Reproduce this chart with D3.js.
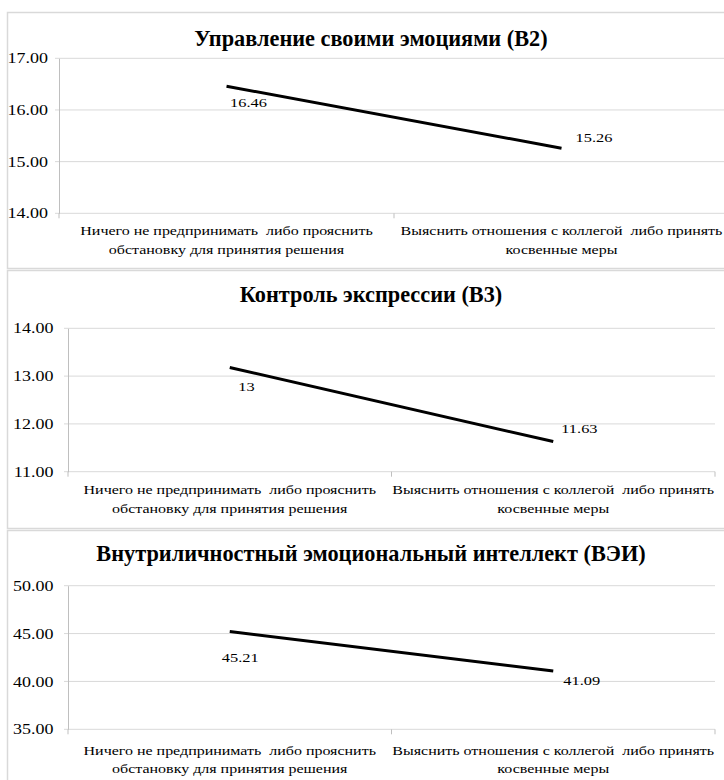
<!DOCTYPE html>
<html>
<head>
<meta charset="utf-8">
<script src="https://cdn.jsdelivr.net/npm/d3@7"></script>
<style>
  body { margin: 0; background: #fff; }
</style>
</head>
<body>
<svg id="chart" width="724" height="780" style="font-family:'Liberation Serif'"></svg>
<script>
// Data
// ===========================
var categoryLines = [
  ["Ничего не предпринимать  либо прояснить", "обстановку для принятия решения"],
  ["Выяснить отношения с коллегой  либо принять", "косвенные меры"]
];
var titles = [
  "Управление своими эмоциями (B2)",
  "Контроль экспрессии (B3)",
  "Внутриличностный эмоциональный интеллект (ВЭИ)"
];
var b2Values = [16.46, 15.26];
var b3Values = [13.18, 11.63];
var veiValues = [45.21, 41.09];
var b2Labels = ["16.46", "15.26"];
var b3Labels = ["13", "11.63"];
var veiLabels = ["45.21", "41.09"];
var b2Ticks = [14, 15, 16, 17];
var b3Ticks = [11, 12, 13, 14];
var veiTicks = [35, 40, 45, 50];

// Layout for each panel
// ===========================
var fontName = "Liberation Serif";
var squash = 0.8; // small text in the picture is wide and low

var panels = [
  { title: titles[0], values: b2Values, labels: b2Labels, ticks: b2Ticks,
    box: [12, 268], left: 59, right: 729, top: 58.3, bottom: 213.3, titleY: 46,
    pad: 11, catY: [22, 41], labelOffsets: [[3.5, 21], [14, -6.5]] },
  { title: titles[1], values: b3Values, labels: b3Labels, ticks: b3Ticks,
    box: [270, 528], left: 68, right: 715, top: 328.3, bottom: 471.7, titleY: 301.5,
    pad: 14.5, catY: [22, 41.5], labelOffsets: [[8.5, 24], [8, -9]] },
  { title: titles[2], values: veiValues, labels: veiLabels, ticks: veiTicks,
    box: [530, 800], left: 68, right: 715, top: 585.7, bottom: 729.3, titleY: 560.5,
    pad: 14.5, catY: [25.5, 44], labelOffsets: [[-8, 30], [10, 14]] }
];

var svg = d3.select("#chart");

// little helper: text squashed vertically around its baseline
function smallText(parent, x, y, str, anchor, size) {
  return parent.append("text")
    .attr("transform", `translate(${x}, ${y}) scale(1, ${squash})`)
    .attr("text-anchor", anchor)
    .style("font-family", fontName)
    .style("font-size", size + "px")
    .style("white-space", "pre")
    .attr("fill", "#000")
    .text(str);
}

panels.forEach(function(p) {
  var g = svg.append("g");

  // panel border
  g.append("rect")
    .attr("x", 7.5)
    .attr("y", p.box[0] + 0.5)
    .attr("width", 800)
    .attr("height", p.box[1] - p.box[0])
    .attr("fill", "#fff")
    .attr("stroke", "#d9d9d9")
    .attr("stroke-width", 1.5);

  // scales
  var xScale = d3.scaleBand()
    .domain(d3.range(categoryLines.length))
    .range([p.left, p.right]);
  var yScale = d3.scaleLinear()
    .domain(d3.extent(p.ticks))
    .range([p.bottom, p.top]);
  var xMid = i => xScale(i) + xScale.bandwidth() / 2;

  // gridlines
  g.append("g")
    .selectAll("line")
    .data(p.ticks)
    .enter()
    .append("line")
    .attr("x1", p.left - 4)
    .attr("x2", p.right)
    .attr("y1", d => yScale(d))
    .attr("y2", d => yScale(d))
    .attr("stroke", "#d9d9d9")
    .attr("stroke-width", 1);

  // y axis
  var leftAxis = d3.axisLeft(yScale)
    .tickValues(p.ticks)
    .tickFormat(d3.format(".2f"))
    .tickSize(0)
    .tickPadding(p.pad);
  var yAxis = g.append("g")
    .attr("transform", `translate(${p.left}, 0)`)
    .call(leftAxis)
    .attr("font-family", null)
    .attr("font-size", null);
  yAxis.select(".domain").attr("stroke", "#bfbfbf");
  yAxis.selectAll("text")
    .attr("transform", `scale(1, ${squash})`)
    .style("font-family", fontName)
    .style("font-size", "18px")
    .attr("fill", "#000");

  // category tick marks
  var tickXs = [p.left, (p.left + p.right) / 2, p.right];
  g.append("g")
    .selectAll("line")
    .data(tickXs)
    .enter()
    .append("line")
    .attr("x1", d => d)
    .attr("x2", d => d)
    .attr("y1", p.bottom)
    .attr("y2", p.bottom + 5)
    .attr("stroke", "#bfbfbf");

  // category labels
  categoryLines.forEach(function(lines, i) {
    lines.forEach(function(line, j) {
      smallText(g, xMid(i), p.bottom + p.catY[j], line, "middle", 16);
    });
  });

  // the line
  var line = d3.line()
    .x((d, i) => xMid(i))
    .y(d => yScale(d));
  g.append("path")
    .datum(p.values)
    .attr("d", line)
    .attr("fill", "none")
    .attr("stroke", "#000")
    .attr("stroke-width", 3);

  // data labels
  p.values.forEach(function(d, i) {
    smallText(g, xMid(i) + p.labelOffsets[i][0], yScale(d) + p.labelOffsets[i][1],
      p.labels[i], "start", 16.4);
  });

  // title
  g.append("text")
    .attr("x", 371)
    .attr("y", p.titleY)
    .attr("text-anchor", "middle")
    .style("font-family", fontName)
    .style("font-size", "22.3px")
    .style("font-weight", "bold")
    .attr("fill", "#000")
    .text(p.title);
});
</script>
</body>
</html>
